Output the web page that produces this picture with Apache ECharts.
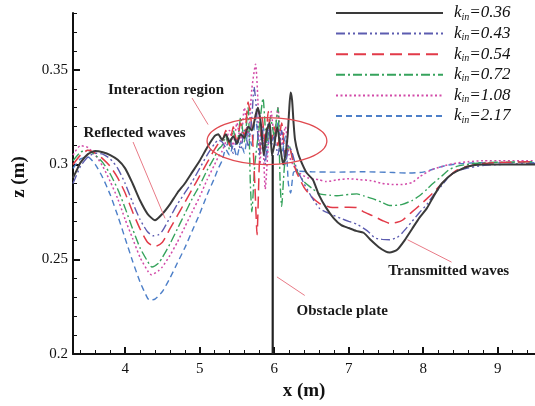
<!DOCTYPE html>
<html><head><meta charset="utf-8">
<script src="https://cdn.jsdelivr.net/npm/echarts@6/dist/echarts.min.js"></script>
<style>html,body{margin:0;padding:0;background:#fff}#c{width:535px;height:406px}</style>
</head><body><div id="c"></div>
<script>
// ---- data ----
const kValues = ['0.36','0.43','0.54','0.72','1.08','2.17'];
const xTicks = [4,5,6,7,8,9];
const yTicks = [0.2,0.25,0.3,0.35];
const yTickLabels = ['0.2','0.25','0.3','0.35'];

const k036 = [[3.3,0.293],[3.35,0.297],[3.4,0.301],[3.5,0.3055],[3.6,0.3072],[3.7,0.3065],[3.8,0.305],[3.9,0.3025],[4.0,0.298],[4.1,0.290],[4.2,0.281],[4.3,0.274],[4.4,0.2706],[4.5,0.274],[4.6,0.279],[4.7,0.285],[4.8,0.290],[4.9,0.296],[5.0,0.302],[5.1,0.309],[5.2,0.315],[5.25,0.316],[5.3,0.313],[5.35,0.316],[5.4,0.312],[5.45,0.315],[5.5,0.311],[5.55,0.316],[5.6,0.314],[5.65,0.32],[5.7,0.318],[5.75,0.326],[5.78,0.33],[5.82,0.322],[5.86,0.305],[5.9,0.318],[5.94,0.322],[5.97,0.305],[6.0,0.31],[6.04,0.32],[6.08,0.31],[6.12,0.30],[6.15,0.305],[6.18,0.315],[6.2,0.328],[6.22,0.338],[6.24,0.334],[6.26,0.322],[6.28,0.313],[6.32,0.306],[6.38,0.300],[6.44,0.2954],[6.52,0.292],[6.6,0.284],[6.7,0.277],[6.8,0.2716],[6.9,0.268],[7.0,0.2665],[7.1,0.265],[7.2,0.264],[7.3,0.260],[7.4,0.2565],[7.5,0.254],[7.55,0.2536],[7.65,0.255],[7.75,0.260],[7.85,0.266],[7.95,0.272],[8.05,0.277],[8.15,0.284],[8.25,0.290],[8.4,0.2954],[8.6,0.299],[8.8,0.300],[9.0,0.3],[9.5,0.3]];

const k043 = [[3.3,0.290],[3.4,0.299],[3.5,0.304],[3.6,0.306],[3.7,0.3055],[3.8,0.303],[3.9,0.298],[4.0,0.290],[4.1,0.280],[4.2,0.271],[4.3,0.2645],[4.38,0.2624],[4.45,0.263],[4.5,0.265],[4.6,0.272],[4.7,0.279],[4.8,0.285],[4.9,0.291],[5.0,0.298],[5.1,0.305],[5.2,0.311],[5.25,0.313],[5.3,0.312],[5.35,0.309],[5.4,0.314],[5.45,0.306],[5.5,0.313],[5.55,0.308],[5.6,0.318],[5.65,0.31],[5.7,0.325],[5.73,0.341],[5.76,0.33],[5.8,0.305],[5.84,0.318],[5.88,0.30],[5.92,0.322],[5.96,0.31],[6.0,0.315],[6.05,0.305],[6.1,0.318],[6.15,0.30],[6.2,0.31],[6.25,0.305],[6.3,0.298],[6.4,0.290],[6.5,0.283],[6.61,0.2768],[6.75,0.274],[6.9,0.2715],[7.0,0.270],[7.11,0.2685],[7.25,0.265],[7.35,0.2613],[7.45,0.2605],[7.55,0.2603],[7.65,0.2615],[7.72,0.264],[7.85,0.270],[7.95,0.2747],[8.05,0.279],[8.13,0.2835],[8.25,0.289],[8.35,0.2938],[8.45,0.2965],[8.58,0.298],[8.8,0.2995],[9.0,0.300],[9.5,0.3005]];

const k054 = [[3.3,0.300],[3.4,0.305],[3.5,0.3075],[3.6,0.306],[3.7,0.303],[3.8,0.299],[3.9,0.293],[4.0,0.285],[4.1,0.275],[4.2,0.266],[4.3,0.259],[4.4,0.2567],[4.5,0.259],[4.6,0.266],[4.7,0.273],[4.8,0.280],[4.9,0.287],[5.0,0.294],[5.1,0.301],[5.2,0.308],[5.25,0.311],[5.3,0.312],[5.35,0.318],[5.4,0.31],[5.45,0.32],[5.5,0.312],[5.55,0.322],[5.6,0.315],[5.65,0.333],[5.7,0.32],[5.74,0.29],[5.77,0.263],[5.8,0.30],[5.84,0.325],[5.88,0.31],[5.92,0.328],[5.96,0.312],[6.0,0.32],[6.05,0.31],[6.1,0.322],[6.15,0.305],[6.2,0.31],[6.25,0.302],[6.3,0.296],[6.4,0.288],[6.5,0.283],[6.61,0.2794],[6.75,0.2775],[6.84,0.2773],[7.0,0.2775],[7.11,0.2773],[7.2,0.275],[7.32,0.273],[7.45,0.2705],[7.55,0.269],[7.65,0.2695],[7.72,0.2706],[7.85,0.275],[7.95,0.2784],[8.05,0.282],[8.13,0.285],[8.25,0.290],[8.35,0.2938],[8.45,0.297],[8.58,0.299],[8.8,0.3005],[9.0,0.301],[9.5,0.3015]];

const k072 = [[3.3,0.302],[3.4,0.3065],[3.5,0.3075],[3.6,0.305],[3.7,0.301],[3.8,0.295],[3.9,0.287],[4.0,0.277],[4.1,0.266],[4.2,0.256],[4.3,0.249],[4.36,0.2459],[4.45,0.248],[4.5,0.251],[4.6,0.258],[4.7,0.266],[4.8,0.274],[4.9,0.282],[5.0,0.289],[5.1,0.297],[5.2,0.304],[5.25,0.308],[5.3,0.310],[5.35,0.315],[5.4,0.308],[5.45,0.318],[5.5,0.31],[5.55,0.325],[5.6,0.312],[5.65,0.33],[5.68,0.29],[5.7,0.275],[5.74,0.30],[5.8,0.32],[5.85,0.335],[5.9,0.31],[5.95,0.325],[6.0,0.315],[6.05,0.33],[6.08,0.29],[6.1,0.278],[6.14,0.30],[6.2,0.31],[6.25,0.303],[6.3,0.297],[6.4,0.291],[6.52,0.2871],[6.61,0.2845],[6.75,0.2838],[6.84,0.2835],[7.0,0.2842],[7.11,0.2845],[7.2,0.2835],[7.32,0.282],[7.45,0.280],[7.55,0.2784],[7.65,0.2785],[7.72,0.279],[7.85,0.281],[7.95,0.2835],[8.05,0.287],[8.13,0.290],[8.25,0.294],[8.35,0.2974],[8.45,0.299],[8.58,0.300],[8.8,0.301],[9.5,0.3015]];

const k108 = [[3.3,0.305],[3.4,0.310],[3.5,0.309],[3.6,0.305],[3.7,0.299],[3.8,0.291],[3.9,0.282],[4.0,0.271],[4.1,0.261],[4.2,0.251],[4.3,0.244],[4.35,0.2418],[4.45,0.244],[4.5,0.246],[4.6,0.252],[4.7,0.259],[4.8,0.267],[4.9,0.275],[5.0,0.283],[5.1,0.292],[5.2,0.300],[5.25,0.304],[5.3,0.307],[5.35,0.312],[5.4,0.318],[5.45,0.31],[5.5,0.322],[5.55,0.312],[5.6,0.33],[5.65,0.315],[5.7,0.34],[5.75,0.353],[5.78,0.335],[5.81,0.30],[5.84,0.32],[5.88,0.287],[5.92,0.31],[5.96,0.328],[6.0,0.315],[6.05,0.33],[6.1,0.31],[6.15,0.32],[6.2,0.305],[6.25,0.30],[6.32,0.296],[6.45,0.293],[6.6,0.292],[6.7,0.291],[6.85,0.292],[7.0,0.2925],[7.15,0.292],[7.3,0.2915],[7.45,0.290],[7.6,0.2895],[7.72,0.2895],[7.85,0.2905],[7.95,0.2935],[8.1,0.297],[8.25,0.299],[8.4,0.3005],[8.6,0.3015],[8.8,0.302],[9.5,0.302]];

const k217 = [[3.3,0.298],[3.4,0.303],[3.5,0.304],[3.6,0.300],[3.7,0.293],[3.8,0.284],[3.9,0.273],[4.0,0.261],[4.1,0.249],[4.2,0.238],[4.3,0.2295],[4.33,0.2284],[4.4,0.229],[4.5,0.233],[4.6,0.240],[4.7,0.248],[4.8,0.256],[4.9,0.265],[5.0,0.274],[5.1,0.284],[5.2,0.293],[5.25,0.298],[5.3,0.302],[5.35,0.308],[5.4,0.305],[5.45,0.31],[5.5,0.304],[5.55,0.312],[5.6,0.306],[5.65,0.318],[5.7,0.31],[5.75,0.325],[5.8,0.31],[5.85,0.32],[5.9,0.305],[5.95,0.318],[6.0,0.31],[6.05,0.322],[6.1,0.305],[6.15,0.315],[6.19,0.29],[6.22,0.285],[6.26,0.296],[6.32,0.2965],[6.5,0.2962],[6.8,0.296],[7.2,0.2962],[7.6,0.2958],[7.8,0.2955],[8.0,0.296],[8.13,0.2975],[8.3,0.2995],[8.5,0.3005],[8.8,0.301],[9.5,0.301]];

const plate = [[5.98,0.2],[5.98,0.305]];

// ---- styles ----
const seriesData = [k036,k043,k054,k072,k108,k217];
const colors = ['#3a3a3a','#5c5cb0','#e23a48','#36a35c','#d24aa8','#4d7fc8'];
const dashes = ['solid',[9,3,2,3,2,3],[12,6],[9,3,2,3],[2,2.5],[6,4]];
const widths = [2,1.4,1.5,1.4,1.5,1.4];
const serif = '"Liberation Serif","Times New Roman",serif';

const chart = echarts.init(document.getElementById('c'), null, {renderer:'canvas'});
const names = kValues.map(v => 'kin=' + v);

const xMinor = []; for (let v = 34; v <= 94; v += 2) if (v % 10 !== 0) xMinor.push(v/10);
const yMinor = []; for (let v = 20; v <= 38; v += 1) if (v % 5 !== 0) yMinor.push(v/100);

const series = names.map((n,i) => ({
  name: n, type: 'line', data: seriesData[i], showSymbol: false, symbol: 'none',
  smooth: 0.2, z: i === 0 ? 10 : 5 - i * 0.1,
  lineStyle: {color: colors[i], width: widths[i], type: dashes[i]},
  itemStyle: {color: colors[i]}
}));
series.push({name:'plate', type:'line', data: plate, symbol:'none', z: 11,
  lineStyle:{color:'#222', width:2.2}});

chart.setOption({
  animation: false,
  grid: {left: 73, right: 0, top: 13, bottom: 44},
  legend: {
    data: names, orient: 'vertical', left: 335, top: 4, itemWidth: 107, itemHeight: 12,
    itemGap: 2.6, padding: 0,
    itemStyle: {opacity: 0},
    formatter: n => '{k|k}{s|in}{v|=' + n.split('=')[1] + '}',
    textStyle: {
      rich: {
        k: {fontFamily: serif, fontStyle:'italic', fontSize: 17, lineHeight: 20, padding:[0,0,0,6], color:'#111'},
        s: {fontFamily: serif, fontStyle:'italic', fontSize: 10, lineHeight: 20, padding:[8,0,0,0], color:'#111'},
        v: {fontFamily: serif, fontStyle:'italic', fontSize: 17, lineHeight: 20, color:'#111'}
      }
    }
  },
  xAxis: [{
    type:'value', min:3.3, max:9.5, position:'bottom',
    name:'x (m)', nameLocation:'middle', nameGap: 28,
    nameTextStyle:{fontFamily: serif, fontWeight:'bold', fontSize: 19, color:'#111'},
    axisLine:{lineStyle:{color:'#111', width:2}},
    axisTick:{inside:true, length:7, lineStyle:{color:'#111', width:2}, customValues: xTicks},
    axisLabel:{customValues: xTicks, fontFamily: serif, fontSize: 15, color:'#111', margin: 8},
    splitLine:{show:false}
  },{
    type:'value', min:3.3, max:9.5, position:'bottom',
    axisLine:{show:false},
    axisTick:{inside:true, length:4, lineStyle:{color:'#111', width:1}, customValues: xMinor},
    axisLabel:{show:false}, splitLine:{show:false}
  }],
  yAxis: [{
    type:'value', min:0.2, max:0.38, position:'left',
    axisLine:{lineStyle:{color:'#111', width:2}},
    axisTick:{inside:true, length:7, lineStyle:{color:'#111', width:2}, customValues: yTicks},
    axisLabel:{customValues: yTicks, formatter: v => { const i = yTicks.findIndex(t => Math.abs(t-v)<1e-9); return i>=0 ? yTickLabels[i] : ''; },
      fontFamily: serif, fontSize: 15, color:'#111', margin: 5},
    splitLine:{show:false}
  },{
    type:'value', min:0.2, max:0.38, position:'left',
    axisLine:{show:false},
    axisTick:{inside:true, length:4, lineStyle:{color:'#111', width:1}, customValues: yMinor},
    axisLabel:{show:false}, splitLine:{show:false}
  }],
  series: series
});

// ---- annotations (data coordinates) ----
const noteTexts = [
  {text:'Interaction region', at:[3.77,0.3395]},
  {text:'Reflected waves', at:[3.44,0.3165]},
  {text:'Transmitted waves', at:[7.53,0.2435]},
  {text:'Obstacle plate', at:[6.30,0.2228]}
];
const noteLines = [
  [[4.898,0.3351],[5.113,0.3211]],
  [[4.106,0.3119],[4.535,0.2716]],
  [[7.79,0.2603],[8.38,0.2485]],
  [[6.037,0.2407],[6.41,0.2309]]
];
const ellipse = {center:[5.903,0.3124], rx:0.804, ry:0.0124};

const P = p => chart.convertToPixel({gridIndex:0}, p);
const g = [];
const c = P(ellipse.center);
const e2 = P([ellipse.center[0]+ellipse.rx, ellipse.center[1]+ellipse.ry]);
g.push({type:'ellipse', shape:{cx:c[0], cy:c[1], rx:e2[0]-c[0], ry:c[1]-e2[1]},
  style:{fill:null, stroke:'#e04a50', lineWidth:1.3}, z:20});
noteLines.forEach(l => {
  const a = P(l[0]), b = P(l[1]);
  g.push({type:'line', shape:{x1:a[0], y1:a[1], x2:b[0], y2:b[1]},
    style:{stroke:'#e87a86', lineWidth:1}, z:20});
});
noteTexts.forEach(t => {
  const p = P(t.at);
  g.push({type:'text', x:p[0], y:p[1], z:21,
    style:{text:t.text, fill:'#1a1a1a', font:'bold 15px ' + serif, textAlign:'left', textVerticalAlign:'middle'}});
});
g.push({type:'text', x:19, y:177, rotation:Math.PI/2, z:21,
  style:{text:'z (m)', fill:'#111', font:'bold 19px ' + serif, textAlign:'center', textVerticalAlign:'middle'}});
chart.setOption({graphic: g});
</script></body></html>
